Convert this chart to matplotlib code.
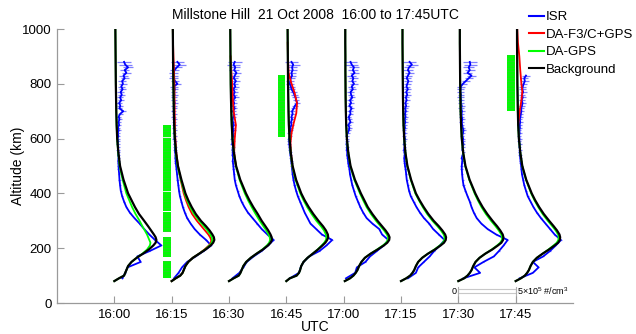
import numpy as np
import matplotlib
matplotlib.use("Agg")
import matplotlib.pyplot as plt
from matplotlib.lines import Line2D

plt.rcParams['font.family'] = ['Liberation Sans', 'DejaVu Sans']
plt.rcParams['mathtext.fontset'] = 'custom'
plt.rcParams['mathtext.rm'] = 'Liberation Sans'
plt.rcParams['mathtext.default'] = 'rm'
plt.rcParams['hatch.linewidth'] = 0.6

NaN = float('nan')

# ---------------- data ----------------
title = "Millstone Hill  21 Oct 2008  16:00 to 17:45UTC"
times = [0, 15, 30, 45, 60, 75, 90, 105]          # minutes after 16:00
time_labels = ["16:00", "16:15", "16:30", "16:45", "17:00", "17:15", "17:30", "17:45"]
scale_density = 5.0                                 # 5x10^5 /cm3 == 15 min
scale_minutes = 15.0

# model altitude grid (km); densities in 1e5 /cm^3
alt_m = [80, 90, 100, 110, 120, 135, 150, 165, 180, 195, 210, 220, 230, 240, 250, 265, 280, 300,
         325, 350, 375, 400, 450, 500, 550, 600, 650, 700, 750, 800, 850, 900, 950, 1000]

bg_1600 = [0.0, 0.4, 0.85, 0.95, 1.05, 1.2, 1.5, 1.95, 2.5, 3.0, 3.4, 3.6, 3.67, 3.6, 3.45, 3.2, 2.95, 2.6,
           2.15, 1.8, 1.5, 1.2, 0.8, 0.5, 0.35, 0.25, 0.2, 0.17, 0.15, 0.13, 0.12, 0.11, 0.1, 0.09]
bg_1615 = [0.0, 0.35, 0.75, 0.95, 1.05, 1.2, 1.45, 1.85, 2.4, 2.95, 3.4, 3.62, 3.72, 3.68, 3.55, 3.3, 3.0, 2.55,
           2.1, 1.75, 1.45, 1.2, 0.85, 0.55, 0.38, 0.28, 0.22, 0.19, 0.17, 0.15, 0.13, 0.12, 0.11, 0.1]
bg_1630 = [0.0, 0.4, 0.85, 1.0, 1.1, 1.25, 1.5, 1.9, 2.4, 2.95, 3.4, 3.62, 3.74, 3.72, 3.62, 3.42, 3.18, 2.85,
           2.5, 2.12, 1.78, 1.48, 0.98, 0.62, 0.42, 0.3, 0.24, 0.2, 0.17, 0.15, 0.14, 0.13, 0.12, 0.11]
bg_1645 = [0.0, 0.3, 0.9, 1.1, 1.2, 1.3, 1.5, 1.85, 2.3, 2.75, 3.15, 3.4, 3.56, 3.65, 3.62, 3.45, 3.2, 2.8,
           2.35, 1.95, 1.6, 1.3, 0.85, 0.55, 0.38, 0.28, 0.22, 0.19, 0.17, 0.15, 0.14, 0.13, 0.12, 0.11]
bg_1700 = [0.1, 0.55, 0.85, 1.05, 1.2, 1.35, 1.55, 1.85, 2.35, 2.95, 3.5, 3.8, 3.97, 4.0, 3.9, 3.65, 3.35, 2.95,
           2.5, 2.1, 1.8, 1.5, 0.98, 0.6, 0.4, 0.28, 0.22, 0.19, 0.17, 0.16, 0.15, 0.15, 0.14, 0.14]
bg_1715 = [0.0, 0.45, 0.8, 1.0, 1.15, 1.3, 1.5, 1.85, 2.35, 2.95, 3.45, 3.75, 3.9, 3.93, 3.85, 3.6, 3.3, 2.85,
           2.38, 1.98, 1.62, 1.3, 0.88, 0.56, 0.38, 0.28, 0.22, 0.19, 0.17, 0.16, 0.15, 0.14, 0.13, 0.13]
bg_1730 = [0.0, 0.5, 0.8, 1.0, 1.15, 1.3, 1.5, 1.85, 2.35, 2.95, 3.45, 3.75, 3.9, 3.93, 3.87, 3.65, 3.38, 2.98,
           2.52, 2.12, 1.78, 1.48, 0.98, 0.62, 0.42, 0.3, 0.24, 0.2, 0.18, 0.16, 0.15, 0.14, 0.13, 0.13]
bg_1745 = [0.0, 0.45, 0.8, 1.0, 1.15, 1.3, 1.5, 1.85, 2.35, 2.9, 3.4, 3.7, 3.85, 3.88, 3.82, 3.6, 3.32, 2.92,
           2.45, 2.05, 1.7, 1.4, 0.92, 0.58, 0.4, 0.28, 0.22, 0.19, 0.17, 0.15, 0.14, 0.13, 0.12, 0.12]

gps_1600 = [0.0, 0.4, 0.85, 0.95, 1.05, 1.2, 1.5, 1.95, 2.45, 2.85, 3.1, 3.15, 3.05, 2.95, 2.85, 2.65, 2.45, 2.2,
            1.85, 1.55, 1.3, 1.05, 0.72, 0.46, 0.33, 0.25, 0.2, 0.17, 0.15, 0.13, 0.12, 0.11, 0.1, 0.09]
gps_1615 = [0.0, 0.35, 0.75, 0.95, 1.05, 1.2, 1.45, 1.85, 2.4, 2.9, 3.3, 3.5, 3.55, 3.5, 3.38, 3.12, 2.82, 2.4,
            1.95, 1.62, 1.35, 1.12, 0.8, 0.52, 0.36, 0.27, 0.22, 0.19, 0.17, 0.15, 0.13, 0.12, 0.11, 0.1]
gps_1630 = [0.0, 0.4, 0.85, 1.0, 1.1, 1.25, 1.5, 1.9, 2.4, 2.9, 3.3, 3.5, 3.58, 3.55, 3.45, 3.25, 3.0, 2.68,
            2.32, 1.98, 1.66, 1.38, 0.92, 0.6, 0.42, 0.3, 0.24, 0.2, 0.17, 0.15, 0.14, 0.13, 0.12, 0.11]
gps_1645 = [0.0, 0.3, 0.9, 1.1, 1.2, 1.3, 1.5, 1.85, 2.3, 2.72, 3.08, 3.3, 3.45, 3.5, 3.45, 3.28, 3.02, 2.62,
            2.2, 1.82, 1.5, 1.22, 0.8, 0.52, 0.37, 0.28, 0.22, 0.19, 0.17, 0.15, 0.14, 0.13, 0.12, 0.11]
gps_1700 = [0.1, 0.55, 0.85, 1.05, 1.2, 1.35, 1.55, 1.85, 2.35, 2.9, 3.42, 3.7, 3.85, 3.87, 3.77, 3.52, 3.22, 2.82,
            2.38, 2.0, 1.7, 1.42, 0.93, 0.58, 0.39, 0.28, 0.22, 0.19, 0.17, 0.16, 0.15, 0.15, 0.14, 0.14]
gps_1715 = [0.0, 0.45, 0.8, 1.0, 1.15, 1.3, 1.5, 1.85, 2.35, 2.9, 3.38, 3.65, 3.78, 3.8, 3.72, 3.48, 3.18, 2.74,
            2.28, 1.9, 1.56, 1.25, 0.85, 0.55, 0.38, 0.28, 0.22, 0.19, 0.17, 0.16, 0.15, 0.14, 0.13, 0.13]
gps_1730 = [0.0, 0.5, 0.8, 1.0, 1.15, 1.3, 1.5, 1.85, 2.35, 2.9, 3.38, 3.65, 3.8, 3.82, 3.75, 3.52, 3.25, 2.85,
            2.4, 2.02, 1.7, 1.42, 0.95, 0.6, 0.41, 0.3, 0.24, 0.2, 0.18, 0.16, 0.15, 0.14, 0.13, 0.13]
gps_1745 = [0.0, 0.45, 0.8, 1.0, 1.15, 1.3, 1.5, 1.85, 2.35, 2.85, 3.3, 3.58, 3.72, 3.75, 3.7, 3.48, 3.2, 2.8,
            2.35, 1.97, 1.64, 1.35, 0.9, 0.57, 0.4, 0.28, 0.22, 0.19, 0.17, 0.15, 0.14, 0.13, 0.12, 0.12]

# DA-F3/C+GPS (only where it departs from DA-GPS)
red_1615 = [0.0, 0.35, 0.75, 0.95, 1.05, 1.2, 1.45, 1.85, 2.4, 2.85, 3.25, 3.42, 3.45, 3.35, 3.2, 2.9, 2.6, 2.2,
            1.78, 1.48, 1.25, 1.05, 0.78, 0.55, 0.4, 0.32, 0.28, 0.26, 0.25, 0.24, 0.2, 0.15, 0.12, 0.1]
red_alt_1630 = [500, 550, 600, 650, 700, 750, 800, 850, 900]
red_1630 = [0.6, 0.45, 0.5, 0.6, 0.4, 0.32, 0.28, 0.2, 0.14]
red_alt_1645 = [450, 500, 550, 583, 620, 656, 693, 729, 766, 802, 839, 900, 950]
red_1645 = [0.8, 0.52, 0.4, 0.36, 0.45, 0.64, 0.87, 0.93, 0.73, 0.44, 0.2, 0.14, 0.12]
red_alt_1745 = [650, 700, 740, 770, 800, 850, 900, 950, 1000]
red_1745 = [0.22, 0.35, 0.5, 0.58, 0.5, 0.4, 0.32, 0.2, 0.14]

# ISR measurements
alt_isr = [90, 110, 130, 150, 170, 190, 210, 230, 250, 270, 290, 310, 330, 350, 370, 390, 410, 430, 450, 470,
           490, 500, 510, 520, 530, 540, 550, 560, 570, 580, 590, 600, 610, 620, 630, 640, 650, 660, 670, 680,
           690, 700, 710, 720, 730, 740, 750, 760, 770, 780, 790, 800, 810, 820, 830, 840, 850, 860, 870, 880]
isr_err = [0.03, 0.03, 0.03, 0.04, 0.04, 0.05, 0.05, 0.05, 0.05, 0.05, 0.06, 0.06, 0.07, 0.07, 0.08, 0.08, 0.09,
           0.1, 0.1, 0.11, 0.12,
           0.12, 0.12, 0.13, 0.13, 0.14, 0.14, 0.15, 0.15, 0.16, 0.16, 0.17, 0.17, 0.18, 0.18, 0.19, 0.2, 0.2,
           0.21, 0.22, 0.22, 0.23, 0.24, 0.25, 0.26, 0.27, 0.28, 0.29, 0.3, 0.31, 0.32, 0.33, 0.35, 0.36, 0.38,
           0.4, 0.42, 0.45, 0.55, 0.6]
isr_1600 = [0.7, 0.95, 1.15, 2.3, 2.0, 3.1, 4.1, 3.55, 3.05, 2.6, 2.2, 1.75, 1.35, 1.05, 0.85, 0.68, 0.56, 0.5,
            0.45, 0.42, 0.38,
            0.37, 0.36, 0.34, 0.38, 0.33, 0.35, 0.31, 0.34, 0.3, 0.33, 0.29, 0.35, 0.3, 0.38, 0.32, 0.42, 0.36,
            0.45, 0.38, 0.5, 0.78, 0.45, 0.52, 0.42, 0.6, 0.5, 0.65, 0.55, 0.72, 0.6, 0.75, 0.68, 0.9, 0.8,
            1.05, 0.9, 1.2, 0.95, 0.85]
isr_1615 = [0.2, 0.6, 0.9, 1.35, 2.1, 2.8, 3.45, 3.0, 2.45, 2.0, 1.65, 1.35, 1.15, 0.98, 0.85, 0.72, 0.64, 0.58,
            0.52, 0.47, 0.42,
            0.4, 0.36, 0.35, 0.32, 0.34, 0.3, 0.28, 0.3, 0.26, 0.3, 0.24, 0.27, 0.22, 0.28, 0.2, 0.24, 0.2, 0.25,
            0.18, 0.22, 0.16, 0.24, 0.19, 0.27, 0.2, 0.18, 0.24, 0.2, 0.28, 0.2, 0.5, 0.3, 0.16, 0.2, 0.18, 0.25,
            0.45, 0.7, 0.5]
isr_1630 = [0.3, 0.9, 1.25, 1.55, 2.15, 2.85, 3.4, 3.9, 3.35, 2.85, 2.45, 2.05, 1.65, 1.35, 1.1, 0.9, 0.75, 0.6,
            0.5, 0.45, 0.4,
            0.38, 0.35, 0.33, 0.36, 0.31, 0.34, 0.3, 0.36, 0.28, 0.33, 0.3, 0.38, 0.32, 0.4, 0.33, 0.42, 0.35,
            0.3, 0.4, 0.45, 0.35, 0.5, 0.38, 0.45, 0.35, 0.55, 0.4, 0.5, 0.38, 0.55, 0.45, 0.6, 0.42, 0.5, 0.65,
            0.45, 0.55, 0.4, 0.5]
isr_1645 = [0.3, 1.1, 1.25, 1.5, 2.0, 2.9, 3.5, 4.0, 3.1, 2.6, 2.1, 1.85, 1.6, 1.4, 1.2, 1.0, 0.85, 0.72, 0.62,
            0.55, 0.5,
            0.48, 0.45, 0.42, 0.4, 0.36, 0.33, 0.3, 0.28, 0.26, 0.25, 0.22, 0.3, 0.28, 0.38, 0.35, 0.45, 0.4,
            0.5, 0.45, 0.55, 0.5, 0.65, 0.75, 0.95, 0.85, 0.8, 0.7, 0.6, 0.45, 0.4, 0.3, 0.35, 0.38, 0.5, 0.45,
            0.55, 0.5, 0.6, 0.45]
isr_1700 = [0.2, 1.0, 1.15, 1.9, 2.3, 2.9, 3.5, 3.9, 3.35, 3.1, 2.5, 2.0, 1.7, 1.45, 1.25, 1.05, 0.9, 0.75, 0.65,
            0.55, 0.5,
            0.45, 0.4, 0.38, 0.35, 0.3, 0.32, 0.27, 0.3, 0.25, 0.28, 0.3, 0.26, 0.35, 0.45, 0.5, 0.4, 0.6, 0.5,
            0.45, 0.6, 0.55, 0.7, 0.5, 0.65, 0.55, 0.75, 0.65, 0.6, 0.8, 0.7, 0.9, 0.75, 0.85, 0.7, 0.95, 0.8,
            0.9, 0.7, 0.6]
isr_1715 = [0.6, 1.3, 1.5, 2.0, 2.5, 2.9, 3.4, 3.8, 3.3, 2.8, 2.45, 2.0, 1.65, 1.35, 1.1, 0.85, 0.7, 0.6, 0.5,
            0.45, 0.4,
            0.35, 0.33, 0.3, 0.28, 0.33, 0.3, 0.27, 0.32, 0.28, 0.3, 0.35, 0.28, 0.32, 0.28, 0.35, 0.3, 0.38,
            0.32, 0.4, 0.34, 0.42, 0.36, 0.45, 0.38, 0.5, 0.42, 0.55, 0.45, 0.6, 0.48, 0.55, 0.65, 0.5, 0.6,
            0.75, 0.6, 0.7, 0.95, 0.75]
isr_1730 = [0.44, 1.9, 1.4, 2.2, 3.1, 3.55, 3.95, 4.3, 3.3, 2.55, 2.0, 1.6, 1.35, 1.15, 1.0, 0.8, 0.62, 0.45,
            0.38, 0.33, 0.3,
            0.3, 0.32, 0.35, 0.3, 0.38, 0.42, 0.35, 0.4, 0.45, 0.38, 0.42, 0.35, 0.4, 0.45, 0.38, 0.33, 0.3,
            0.35, 0.3, 0.28, 0.32, 0.25, 0.3, 0.22, 0.26, 0.2, 0.24, 0.18, 0.2, 0.22, 0.4, 0.65, 0.9, 1.15,
            0.8, 1.0, 0.9, 1.05, 1.0]
isr_1745 = [0.35, 1.5, 2.0, 1.5, 2.4, 3.0, 3.5, 3.95, 3.4, 3.0, 2.6, 2.2, 1.85, 1.55, 1.3, 1.05, 0.9, 0.75, 0.65,
            0.55, 0.5,
            0.48, 0.45, 0.42, 0.4, 0.37, 0.35, 0.38, 0.33, 0.36, 0.3, 0.34, 0.3, 0.35, 0.32, 0.37, 0.35, 0.4,
            0.36, 0.42, 0.45, 0.5, 0.48, 0.55, 0.6, 0.52, 0.62, 0.55, 0.65, 0.58, 0.62, 0.7, 0.8, 0.75, 0.9,
            NaN, NaN, NaN, NaN, NaN]

# green observation-coverage bars: (time, bottom km, top km) segments
bar_times = [15, 15, 15, 15, 15, 15, 45, 105]
bar_bottom = [92, 169, 260, 334, 408, 607, 607, 699]
bar_top = [153, 242, 333, 407, 606, 650, 833, 906]

bg_all = [bg_1600, bg_1615, bg_1630, bg_1645, bg_1700, bg_1715, bg_1730, bg_1745]
gps_all = [gps_1600, gps_1615, gps_1630, gps_1645, gps_1700, gps_1715, gps_1730, gps_1745]
isr_all = [isr_1600, isr_1615, isr_1630, isr_1645, isr_1700, isr_1715, isr_1730, isr_1745]
red_all = [(15, alt_m, red_1615), (30, red_alt_1630, red_1630),
           (45, red_alt_1645, red_1645), (105, red_alt_1745, red_1745)]

k = scale_minutes / scale_density


def xpos(t, n):
    return t + k * np.asarray(n, dtype=float)


# ---------------- figure ----------------
fig = plt.figure(figsize=(6.36, 3.34), dpi=100)
ax = fig.add_axes([57 / 636, 31 / 334, 516 / 636, 274 / 334])

grey = '#9a9a9a'
for t, isr in zip(times, isr_all):
    ax.errorbar(xpos(t, isr), alt_isr, xerr=k * np.asarray(isr_err), fmt='none',
                ecolor='#8080ff', elinewidth=0.9, capsize=0, zorder=2)
    ax.plot(xpos(t, isr), alt_isr, color='#0000ff', lw=1.3, zorder=3)

for t, a, r in red_all:
    ax.plot(xpos(t, r), a, color='#ff0000', lw=1.3, zorder=4)

for t, g in zip(times, gps_all):
    ax.plot(xpos(t, g), alt_m, color='#00ff00', lw=1.3, zorder=5)

for t, b in zip(times, bg_all):
    ax.plot(xpos(t, b), alt_m, color='black', lw=1.6, zorder=6)

bar_w = 1.95
ax.bar([t - 1.25 for t in bar_times], [tp - bt for bt, tp in zip(bar_bottom, bar_top)],
       bottom=bar_bottom, width=bar_w, color='#00ff00', edgecolor='#2fcc2f',
       linewidth=0, hatch='-----', zorder=2)
for t, bt in zip(bar_times, bar_bottom):
    ax.plot([t - 1.25 - bar_w / 2, t - 1.25 + bar_w / 2], [bt, bt], color='white', lw=0.6, zorder=2.5)

# density scale bar
t0 = times[6]
t1 = times[7]
ax.plot([t0, t1, t1, t0, t0], [36, 36, 51, 51, 36], color='#c8c8c8', lw=0.8, zorder=1)
ax.plot([t0, t0], [0, 58], color='#b0b0b0', lw=0.8, zorder=1)
ax.plot([t1, t1], [0, 58], color='#b0b0b0', lw=0.8, zorder=1)
ax.text(t0 - 0.5, 42, '0', ha='right', va='center', fontsize=6.5)
ax.text(t1 + 0.3, 42, r'5$\times$10$^5$ #/cm$^3$', ha='left', va='center', fontsize=6.5)

ax.set_xlim(-15, 120)
ax.set_ylim(0, 1000)
ax.set_xticks(times)
ax.set_xticklabels(time_labels)
ax.set_yticks([0, 200, 400, 600, 800, 1000])
ax.tick_params(direction='in', length=5, width=0.8, color=grey, labelsize=9.5, pad=4)
for s in ['top', 'right']:
    ax.spines[s].set_visible(False)
for s in ['left', 'bottom']:
    ax.spines[s].set_color(grey)
    ax.spines[s].set_linewidth(0.9)
ax.set_xlabel('UTC', fontsize=10)
ax.xaxis.set_label_coords(0.5, -0.062)
ax.set_ylabel('Altitude (km)', fontsize=10)
ax.yaxis.set_label_coords(-0.062, 0.5)
ax.set_title(title, fontsize=10, pad=7)

handles = [Line2D([], [], color='#0000ff', lw=1.5), Line2D([], [], color='#ff0000', lw=1.5),
           Line2D([], [], color='#00ff00', lw=1.5), Line2D([], [], color='black', lw=1.5)]
labels = ['ISR', 'DA-F3/C+GPS', 'DA-GPS', 'Background']
fig.legend(handles, labels, loc='upper left', bbox_to_anchor=(529 / 636, 1 - 11 / 334),
           frameon=False, borderpad=0, borderaxespad=0, handlelength=1.1, handletextpad=0.15,
           labelspacing=0.4, fontsize=9.5)

fig.savefig('out.png', dpi=100)
